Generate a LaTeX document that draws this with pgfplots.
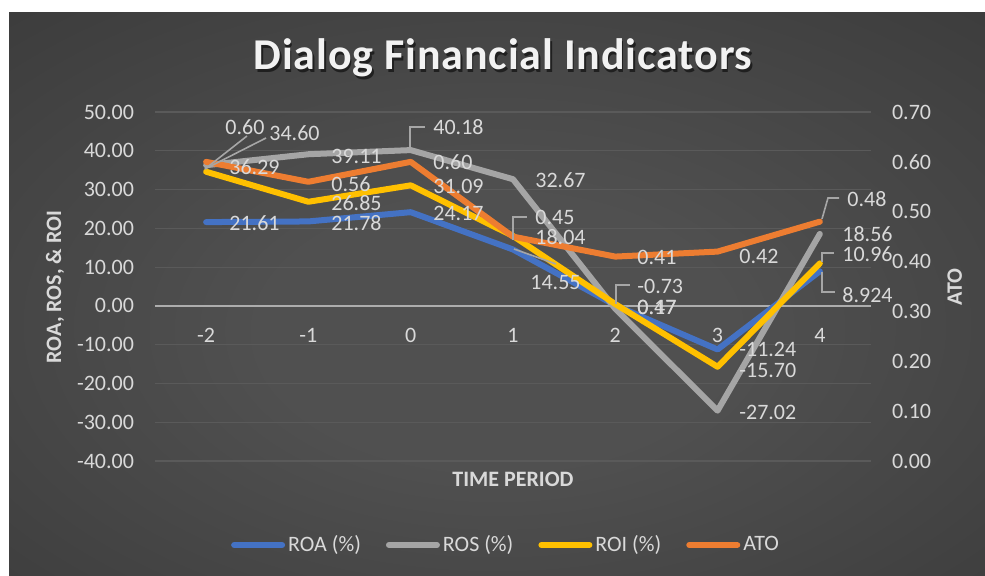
\documentclass[border=0pt]{standalone}
\usepackage{fontspec}
\setmainfont{Carlito}
\newfontfamily\titlefont[LetterSpace=2.0]{Carlito}
\usepackage{pgfplots}
\pgfplotsset{compat=1.18}
\definecolor{roa}{HTML}{4472C4}
\definecolor{ros}{HTML}{A5A5A5}
\definecolor{roi}{HTML}{FFC000}
\definecolor{ato}{HTML}{ED7D31}
\definecolor{txt}{HTML}{D9D9D9}
\definecolor{gridc}{HTML}{5A5A5A}
\definecolor{zeroc}{HTML}{ADADAD}
\definecolor{leader}{HTML}{A6A6A6}
\definecolor{bgc}{HTML}{505050}
\definecolor{bge}{HTML}{202020}
\pgfdeclareradialshading{bgshade}{\pgfpoint{0bp}{-4bp}}{color(0bp)=(bgc); color(12bp)=(bgc); color(74bp)=(bge)}
\newcommand{\lf}{\fontsize{11}{13}\selectfont}
\begin{document}
\begin{tikzpicture}
\begin{scope}[x=0.5pt,y=-0.5pt]
\path[use as bounding box] (0,0) rectangle (985,576);
\fill[white] (0,0) rectangle (985,576);
\shade[shading=bgshade] (9,13) rectangle (985,576);
\node[text=black,opacity=0.55,font=\titlefont\bfseries\fontsize{22}{26}\selectfont] at (504.5,60.5) {Dialog Financial Indicators};
\node[text=white!95!black,font=\titlefont\bfseries\fontsize{22}{26}\selectfont] at (503,58) {Dialog Financial Indicators};
\end{scope}

\begin{axis}[
  at={(77.5pt,-230.5pt)}, anchor=south west,
  scale only axis, width=358pt, height=174.5pt,
  xmin=-2.5, xmax=4.5, ymin=-40, ymax=50,
  xtick={-2,-1,0,1,2,3,4},
  ytick={-40,-30,-20,-10,0,10,20,30,40,50},
  axis x line*=middle, axis y line*=left,
  hide obscured x ticks=false,
  y axis line style={draw=none},
  x axis line style={draw=zeroc, line width=1pt},
  major tick length=0pt,
  ymajorgrids, grid style={draw=gridc, line width=0.6pt},
  /pgf/number format/assume math mode=true,
  ticklabel style={font=\lf, text=txt},
  yticklabel style={xshift=-7pt, /pgf/number format/.cd, fixed, fixed zerofill, precision=2},
  xticklabel style={yshift=-7.5pt},
  xlabel={TIME PERIOD},
  xlabel style={at={(axis description cs:0.5,-0.0516)}, anchor=center, font=\bfseries\lf, text=txt},
  ylabel={ROA, ROS, \& ROI},
  ylabel style={at={(axis description cs:-0.1397,0.4986)}, anchor=center, font=\bfseries\lf, text=txt},
  legend columns=4,
  legend style={at={(0.491,-0.2407)}, anchor=center, draw=none, fill=none, font=\lf, text=txt,
     /tikz/every even column/.append style={column sep=11pt}, nodes={inner xsep=1.5pt}},
  legend image code/.code={\draw[line width=3pt, line cap=round, #1] (0pt,0pt) -- (24pt,0pt);},
  every axis plot/.append style={line width=3pt, line cap=round, line join=round, no markers},
]
\addplot[color=roa] coordinates {(-2,21.61) (-1,21.78) (0,24.17) (1,14.55) (2,0.17) (3,-11.24) (4,8.924)};
\addlegendentry{ROA (\%)}
\addplot[color=ros] coordinates {(-2,36.29) (-1,39.11) (0,40.18) (1,32.67) (2,-0.73) (3,-27.02) (4,18.56)};
\addlegendentry{ROS (\%)}
\addplot[color=roi] coordinates {(-2,34.60) (-1,26.85) (0,31.09) (1,18.04) (2,0.47) (3,-15.70) (4,10.96)};
\addlegendentry{ROI (\%)}
\addlegendimage{color=ato}
\addlegendentry{ATO}
\end{axis}

\begin{axis}[
  at={(77.5pt,-230.5pt)}, anchor=south west,
  scale only axis, width=358pt, height=174.5pt,
  xmin=-2.5, xmax=4.5, ymin=0, ymax=0.7,
  axis x line=none, axis y line*=right,
  y axis line style={draw=none},
  major tick length=0pt,
  ytick={0,0.1,0.2,0.3,0.4,0.5,0.6,0.7},
  /pgf/number format/assume math mode=true,
  ticklabel style={font=\lf, text=txt},
  yticklabel style={xshift=7pt, /pgf/number format/.cd, fixed, fixed zerofill, precision=2},
  ylabel={ATO},
  ylabel style={at={(axis description cs:1.117,0.4986)}, anchor=center, font=\bfseries\lf, text=txt},
  every axis plot/.append style={line width=3pt, line cap=round, line join=round, no markers},
]
\addplot[color=ato] coordinates {(-2,0.60) (-1,0.56) (0,0.60) (1,0.45) (2,0.41) (3,0.42) (4,0.48)};
\end{axis}

\begin{scope}[x=0.5pt,y=-0.5pt]
\draw[leader, line width=0.8pt] (205,169) -- (247,136);
\draw[leader, line width=0.8pt] (205,169) -- (266,138);
\draw[leader, line width=0.8pt] (410,149) -- (410,127) -- (425,127);
\draw[leader, line width=0.8pt] (513,240) -- (513,217) -- (527,217);
\draw[leader, line width=0.8pt] (514,249) -- (556,264);
\draw[leader, line width=0.8pt] (616,304) -- (616,285) -- (630,285);
\draw[leader, line width=0.8pt] (822,219) -- (828,198) -- (839,198);
\draw[leader, line width=0.8pt] (822,262) -- (822,253) -- (834,253);
\draw[leader, line width=0.8pt] (822,272) -- (822,292) -- (835,292);
\begin{scope}[every node/.style={anchor=west, inner sep=0pt, font=\lf, text=txt}]
\node at (225,127) {0.60};
\node at (269,133) {34.60};
\node at (229,167) {36.29};
\node at (229,223) {21.61};
\node at (331,156) {39.11};
\node at (331,184) {0.56};
\node at (331,203) {26.85};
\node at (331,223) {21.78};
\node at (433,127) {40.18};
\node at (433,162) {0.60};
\node at (433,186) {31.09};
\node at (433,213) {24.17};
\node at (535,180) {32.67};
\node at (535,217) {0.45};
\node at (535,237) {18.04};
\node at (530,283) {14.55};
\node at (637,257) {0.41};
\node at (637,286) {-0.73};
\node at (637,307) {0.47};
\node at (637,307) {0.17};
\node at (739,256) {0.42};
\node at (739,349) {-11.24};
\node at (739,370) {-15.70};
\node at (739,412) {-27.02};
\node at (847,199) {0.48};
\node at (842,234) {18.56};
\node at (842,254) {10.96};
\node at (842,295) {8.924};
\end{scope}
\end{scope}
\end{tikzpicture}
\end{document}
